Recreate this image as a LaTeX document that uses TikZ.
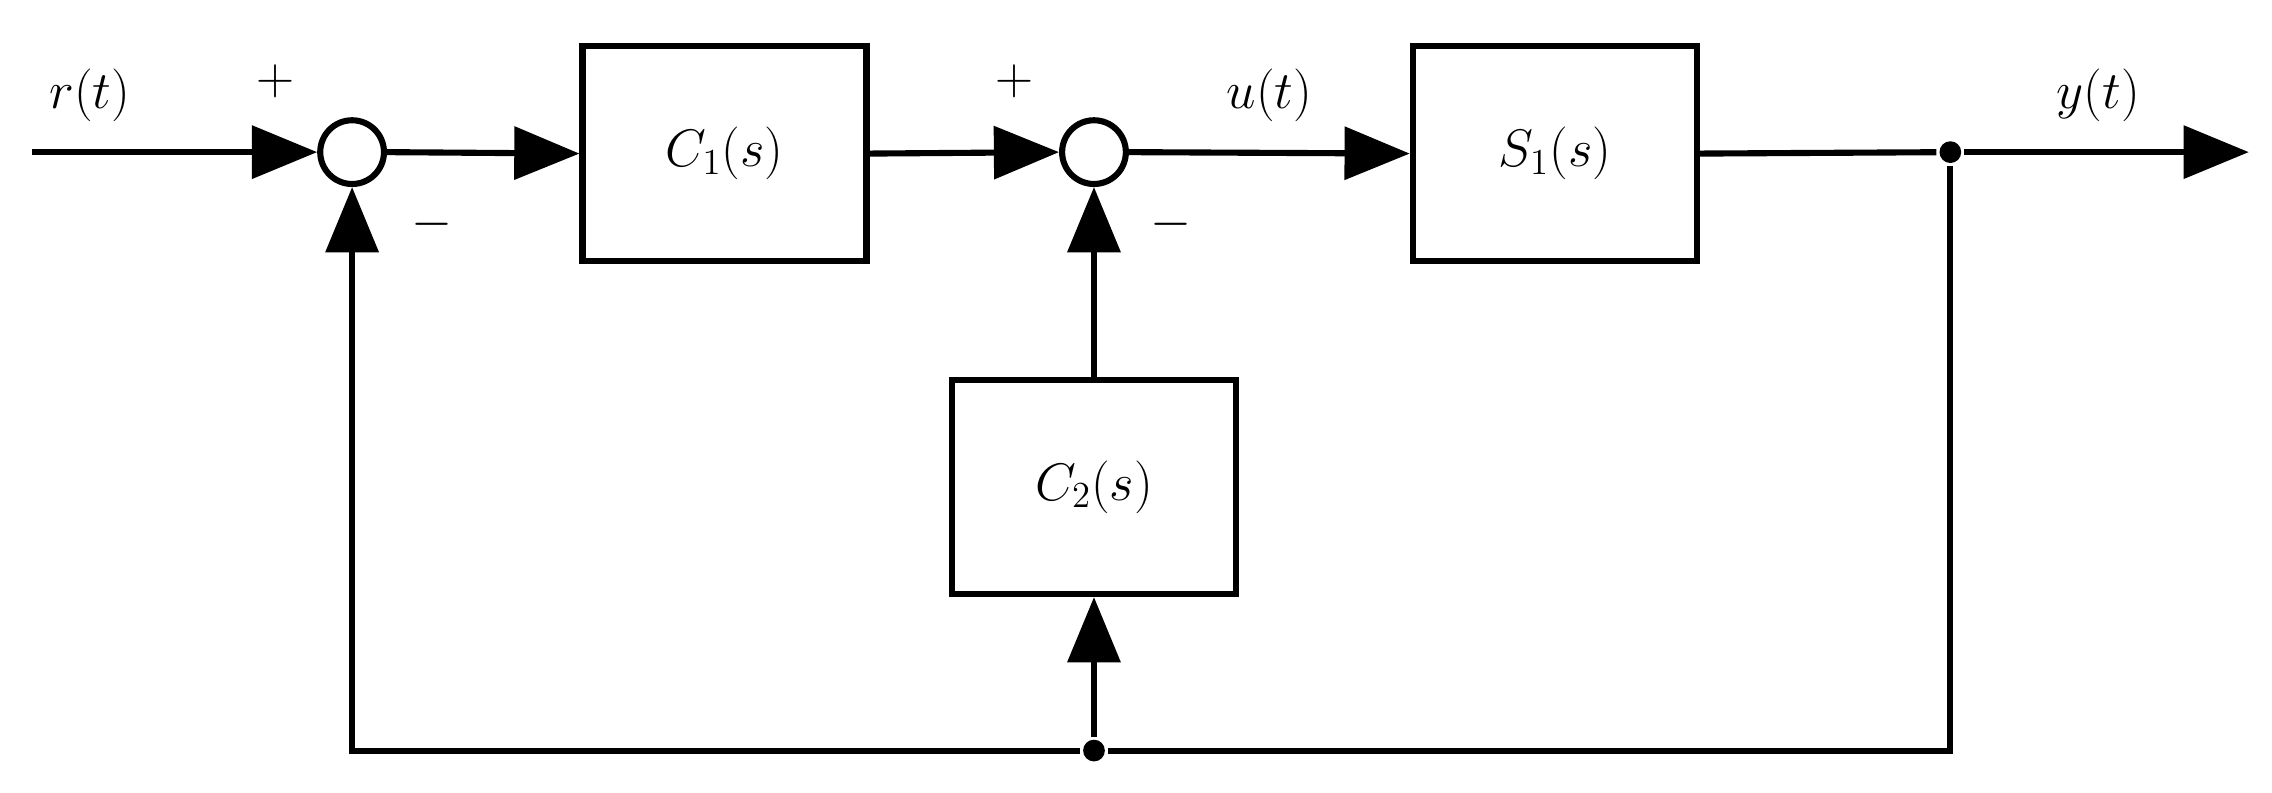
\documentclass[tikz,border=0pt]{standalone}
\usetikzlibrary{arrows.meta}
\begin{document}
\begin{tikzpicture}[x=0.02cm,y=-0.02cm,line width=2.4pt,
  blk/.style={draw,minimum width=3.92cm,minimum height=2.96cm,inner sep=0pt,font=\fontsize{22}{26}\selectfont},
  sum/.style={draw,circle,minimum size=0.88cm,inner sep=0pt},
  dot/.style={circle,fill,minimum size=0.3cm,inner sep=0pt},
  lbl/.style={font=\fontsize{22}{26}\selectfont},
  >={Triangle[length=0.9cm,width=0.72cm]}]
\useasboundingbox (0,0) rectangle (1568,546.6);
\coordinate (in) at (22,105);
\node[sum] (s1) at (243,105) {};
\node[blk] (c1) at (500,106) {$C_1(s)$};
\node[sum] (s2) at (755,105) {};
\node[blk] (p1) at (1073,106) {$S_1(s)$};
\node[blk] (c2) at (755,336) {$C_2(s)$};
\node[dot] (d1) at (1346,105) {};
\node[dot] (d2) at (755,518) {};
\coordinate (out) at (1552,105);
\coordinate (bl) at (243,518);
\coordinate (br) at (1346,518);
\draw[->] (in) -- (s1.west);
\draw[->] (s1.east) -- (c1.west);
\draw[->] (c1.east) -- (s2.west);
\draw[->] (s2.east) -- (p1.west);
\draw (p1.east) -- (d1);
\draw[->] (d1) -- (out);
\draw (d1) -- (br) -- (d2);
\draw[->] (d2) -- (bl) -- (s1.south);
\draw[->] (d2) -- (c2.south);
\draw[->] (c2.north) -- (s2.south);
\node[lbl] (lr) at (62,66) {$r(t)$};
\node[lbl] (lp1) at (190,56) {$+$};
\node[lbl] (lm1) at (298,155) {$-$};
\node[lbl] (lp2) at (700,56) {$+$};
\node[lbl] (lm2) at (808,155) {$-$};
\node[lbl] (lu) at (876,66) {$u(t)$};
\node[lbl] (ly) at (1448,66) {$y(t)$};
\end{tikzpicture}
\end{document}
